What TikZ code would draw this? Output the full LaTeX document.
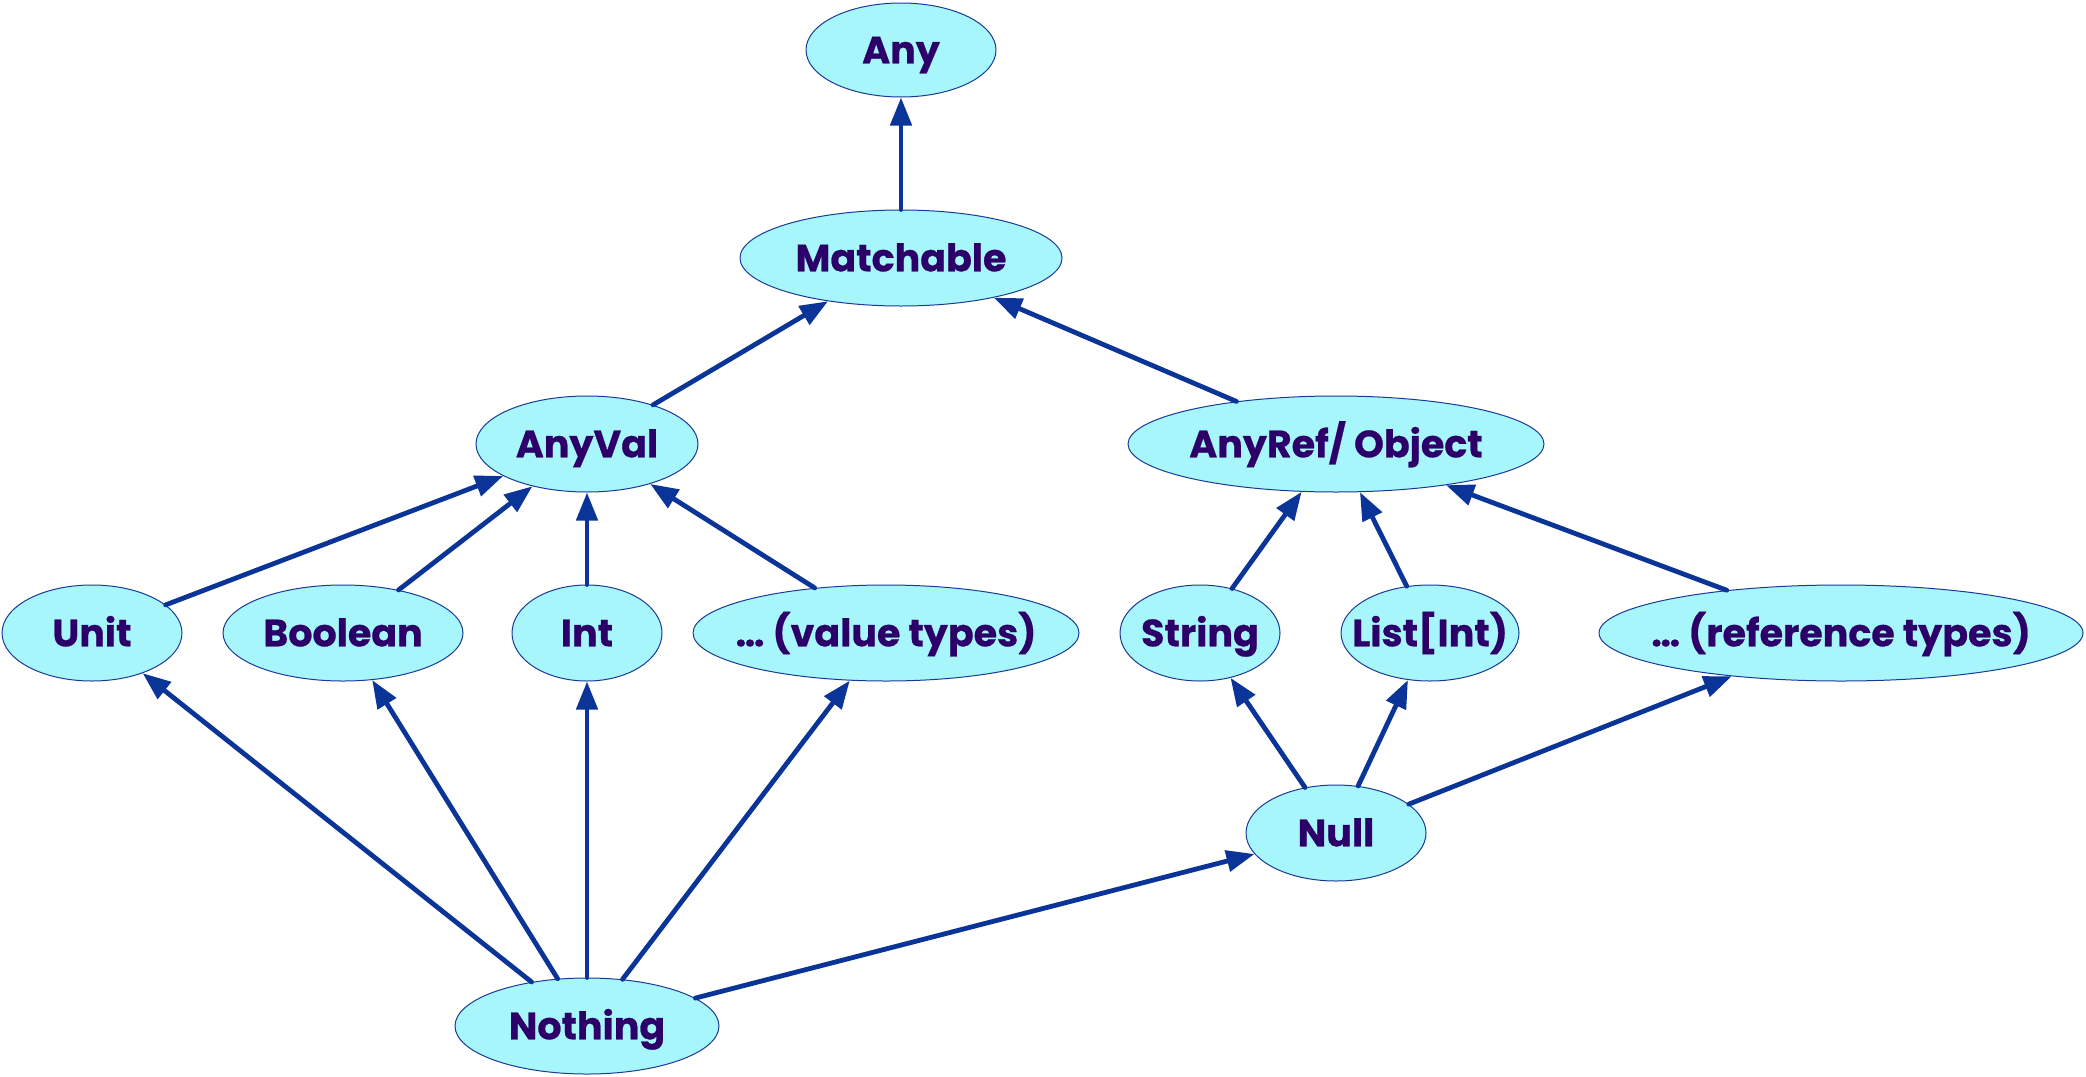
\documentclass[tikz,border=0pt]{standalone}
\usepackage{fontspec}
\setmainfont{Poppins}[BoldFeatures={FakeBold=0.6}]
\usetikzlibrary{arrows.meta,shapes.geometric}
\definecolor{thFill}{HTML}{A6F6FC}
\definecolor{thEdge}{HTML}{1B3A98}
\definecolor{thArrow}{HTML}{0A3497}
\definecolor{thInk}{HTML}{2C0068}
\newcommand\tname[1]{\makebox[0pt][c]{#1}}
\tikzset{
  tnode/.style ={ellipse,draw=thEdge,line width=0.5pt,fill=thFill,inner sep=0pt,
                 minimum height=48pt,text height=13.3pt,text depth=0pt,
                 text=thInk,font=\fontsize{19}{23}\selectfont\bfseries},
  isa/.style   ={-{Triangle[length=14pt,width=10.5pt]},thArrow,line width=2.4pt,line cap=round},
}

\begin{document}
\begin{tikzpicture}[x=0.5pt,y=-0.5pt]
\useasboundingbox (0,0) rectangle (2086,1076);
%% top of the hierarchy
\node[tnode,minimum width=95pt,minimum height=47pt] (any) at (901,50) {\tname{Any}};
\node[tnode,minimum width=161pt] (matchable) at (901,258) {\tname{Matchable}};
\node[tnode,minimum width=111pt] (anyval) at (587,444) {\tname{AnyVal}};
\node[tnode,minimum width=208pt] (anyref) at (1336,444) {\tname{AnyRef/ Object}};
%% value types
\node[tnode,minimum width=90pt] (unit) at (92,633) {\tname{Unit}};
\node[tnode,minimum width=120pt] (boolean) at (343,633) {\tname{Boolean}};
\node[tnode,minimum width=75pt] (int) at (587,633) {\tname{Int}};
\node[tnode,minimum width=193pt] (valtypes) at (886,633) {\tname{\dots{} (value types)}};
%% reference types
\node[tnode,minimum width=80pt] (string) at (1200,633) {\tname{String}};
\node[tnode,minimum width=89pt] (listint) at (1430,633) {\tname{List[Int)}};
\node[tnode,minimum width=242pt] (reftypes) at (1841,633) {\tname{\dots{} (reference types)}};
%% bottom types
\node[tnode,minimum width=90pt] (null) at (1336,833) {\tname{Null}};
\node[tnode,minimum width=132pt] (nothing) at (587,1026) {\tname{Nothing}};

\foreach \sub/\super in {matchable/any,anyval/matchable,anyref/matchable,
    unit/anyval,boolean/anyval,int/anyval,valtypes/anyval,
    string/anyref,listint/anyref,reftypes/anyref,
    null/string,null/listint,null/reftypes,
    nothing/unit,nothing/boolean,nothing/int,nothing/valtypes,nothing/null}
  \draw[isa] (\sub) -- (\super);
\end{tikzpicture}
\end{document}
